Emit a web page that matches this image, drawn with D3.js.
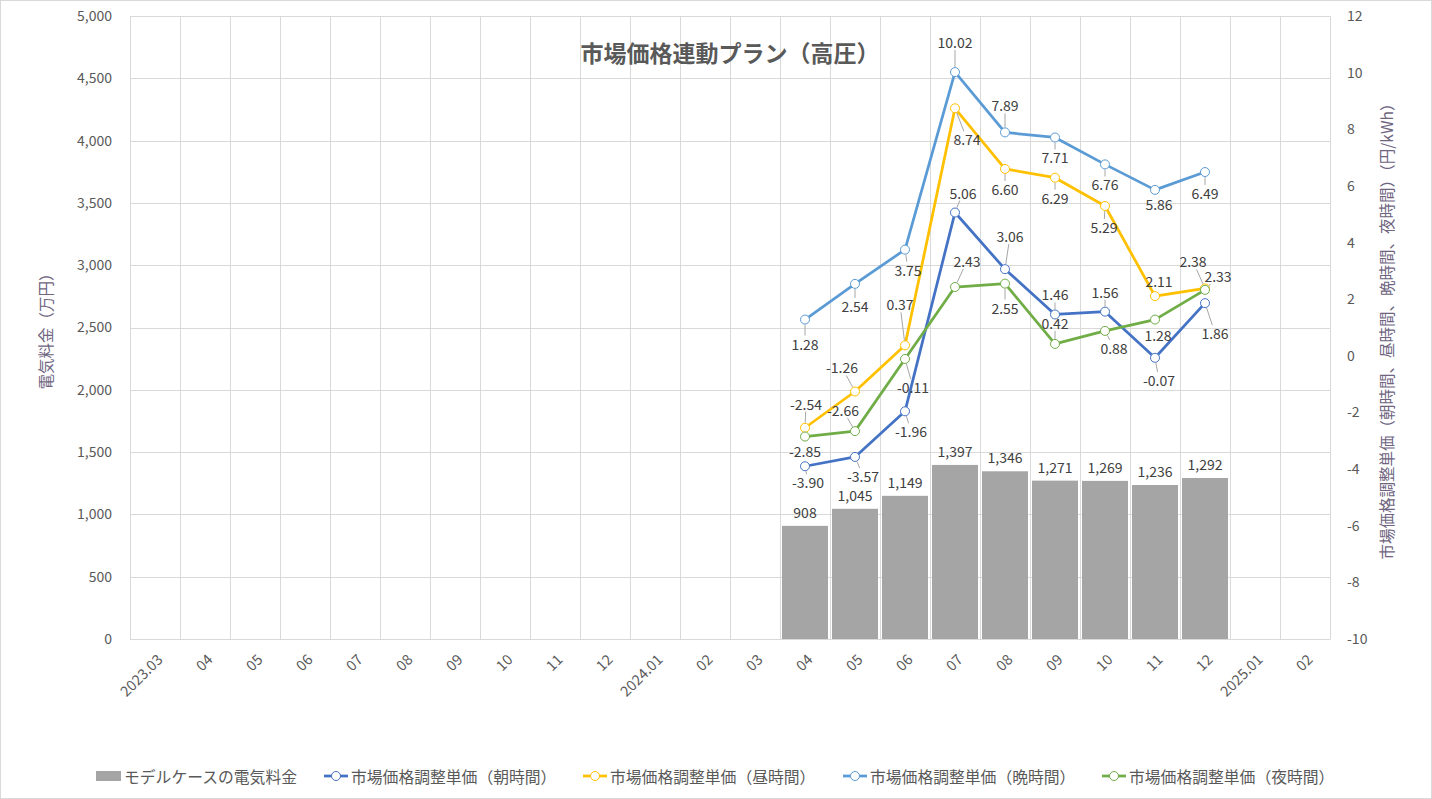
<!DOCTYPE html>
<html>
<head>
<meta charset="utf-8">
<script src="https://cdn.jsdelivr.net/npm/d3@7"></script>
<style>
  html, body { margin: 0; padding: 0; background: #fff; }
  svg { display: block; font-family: "Noto Sans CJK JP", "Noto Sans", sans-serif; }
</style>
</head>
<body>
<svg id="chart" width="1432" height="799"></svg>
<script>
// ---------------- data ----------------
const categories = ['2023.03','2023.04','2023.05','2023.06','2023.07','2023.08','2023.09','2023.10','2023.11','2023.12',
  '2024.01','2024.02','2024.03','2024.04','2024.05','2024.06','2024.07','2024.08','2024.09','2024.10','2024.11','2024.12',
  '2025.01','2025.02'];
const tickLabels = ['2023.03','04','05','06','07','08','09','10','11','12',
  '2024.01','02','03','04','05','06','07','08','09','10','11','12','2025.01','02'];
const dataMonths = ['2024.04','2024.05','2024.06','2024.07','2024.08','2024.09','2024.10','2024.11','2024.12'];

const billValues = [908, 1045, 1149, 1397, 1346, 1271, 1269, 1236, 1292];       // 万円
const morningValues = [-3.90, -3.57, -1.96, 5.06, 3.06, 1.46, 1.56, -0.07, 1.86]; // 朝時間
const dayValues     = [-2.54, -1.26, 0.37, 8.74, 6.60, 6.29, 5.29, 2.11, 2.38];   // 昼時間
const eveningValues = [1.28, 2.54, 3.75, 10.02, 7.89, 7.71, 6.76, 5.86, 6.49];    // 晩時間
const nightValues   = [-2.85, -2.66, -0.11, 2.43, 2.55, 0.42, 0.88, 1.28, 2.33];  // 夜時間

const leftTicks = [0, 500, 1000, 1500, 2000, 2500, 3000, 3500, 4000, 4500, 5000];
const rightTicks = [-10, -8, -6, -4, -2, 0, 2, 4, 6, 8, 10, 12];

const titleText = '市場価格連動プラン（高圧）';
const leftAxisTitle = '電気料金（万円）';
const rightAxisTitle = '市場価格調整単価（朝時間、昼時間、晩時間、夜時間）（円/kWh）';
const barName = 'モデルケースの電気料金';
const seriesNames = ['市場価格調整単価（朝時間）','市場価格調整単価（昼時間）','市場価格調整単価（晩時間）','市場価格調整単価（夜時間）'];

// ---------------- layout / style ----------------
const W = 1432, H = 799;
const plot = { left: 130, right: 1330, top: 16, bottom: 639 };
const colors = ['#4472C4', '#FFC000', '#5B9BD5', '#70AD47'];
const barColor = '#A5A5A5';
const gridColor = '#D9D9D9';
const textColor = '#595959';
const labelColor = '#404040';

// label offsets (label centre relative to its point), per series
const labelOffsets = [
  [[3,16],[8,19],[6,20],[8,-20],[5,-33],[0,-20],[0,-20],[4,22],[10,30]],
  [[1,-24],[-13,-24],[-5,-41],[12,31],[0,20],[0,20],[-1,21],[4,-15],[-12,-27]],
  [[0,24],[0,22],[3,20],[0,-30],[0,-27],[0,20],[0,20],[4,14],[0,21]],
  [[0,14],[-12,-21],[8,28],[12,-26],[0,24],[0,-21],[9,17],[3,15],[13,-14]]
];
const legendX = [96, 324, 583, 843, 1102];

const svg = d3.select('#chart');
svg.append('rect').attr('x', 0.5).attr('y', 0.5).attr('width', W - 1).attr('height', H - 1)
  .attr('fill', '#fff').attr('stroke', gridColor);

const x = d3.scaleBand().domain(categories).range([plot.left, plot.right]).paddingInner(0).paddingOuter(0);
const yL = d3.scaleLinear().domain([0, 5000]).range([plot.bottom, plot.top]);
const yR = d3.scaleLinear().domain([-10, 12]).range([plot.bottom, plot.top]);

// gridlines
const g = svg.append('g');
g.selectAll('line.h').data(leftTicks).join('line')
  .attr('x1', plot.left).attr('x2', plot.right)
  .attr('y1', d => Math.round(yL(d)) + 0.5).attr('y2', d => Math.round(yL(d)) + 0.5)
  .attr('stroke', gridColor).attr('stroke-width', 1);
const bounds = categories.map(c => x(c)).concat([plot.right]);
g.selectAll('line.v').data(bounds).join('line')
  .attr('x1', d => Math.round(d) + 0.5).attr('x2', d => Math.round(d) + 0.5)
  .attr('y1', plot.top).attr('y2', plot.bottom)
  .attr('stroke', gridColor).attr('stroke-width', 1);

// left axis
const leftAxis = d3.axisLeft(yL).tickValues(leftTicks).tickSize(0).tickPadding(18)
  .tickFormat(d3.format(','));
const la = svg.append('g').attr('transform', `translate(${plot.left},0)`).call(leftAxis);
la.select('.domain').remove();
la.selectAll('text').attr('fill', textColor).style('font-size', '14px').attr('font-family', '"Noto Sans CJK JP", sans-serif');

// right axis
const rightAxis = d3.axisRight(yR).tickValues(rightTicks).tickSize(0).tickPadding(17);
const ra = svg.append('g').attr('transform', `translate(${plot.right},0)`).call(rightAxis);
ra.select('.domain').remove();
ra.selectAll('text').attr('fill', textColor).style('font-size', '14px').attr('font-family', '"Noto Sans CJK JP", sans-serif')
  .text(d => d < 0 ? '-' + Math.abs(d) : d);

// bottom axis
const bottomAxis = d3.axisBottom(x).tickSize(0).tickFormat((d, i) => tickLabels[i]);
const ba = svg.append('g').attr('transform', `translate(0,${plot.bottom})`).call(bottomAxis);
ba.select('.domain').attr('stroke', gridColor);
ba.selectAll('text')
  .attr('fill', textColor).style('font-size', '14.5px').attr('font-family', '"Noto Sans CJK JP", sans-serif')
  .attr('text-anchor', 'end')
  .attr('dy', '0.35em').attr('y', 0)
  .attr('transform', 'translate(5,18) rotate(-45)');

// bars
const barW = x.bandwidth() * 0.92;
svg.append('g').selectAll('rect').data(billValues).join('rect')
  .attr('x', (d, i) => x(dataMonths[i]) + (x.bandwidth() - barW) / 2)
  .attr('width', barW)
  .attr('y', d => yL(d))
  .attr('height', d => plot.bottom - yL(d))
  .attr('fill', barColor);

// bar labels
svg.append('g').selectAll('text').data(billValues).join('text')
  .attr('x', (d, i) => x(dataMonths[i]) + x.bandwidth() / 2)
  .attr('y', d => yL(d) - 14)
  .attr('text-anchor', 'middle').attr('dominant-baseline', 'central')
  .attr('fill', labelColor).style('font-size', '14px')
  .text(d => d3.format(',')(d));

// lines
const allSeries = [morningValues, dayValues, eveningValues, nightValues];
const line = d3.line().x((d, i) => x(dataMonths[i]) + x.bandwidth() / 2).y(d => yR(d));
allSeries.forEach((vals, si) => {
  const gs = svg.append('g');
  gs.append('path').datum(vals).attr('d', line)
    .attr('fill', 'none').attr('stroke', colors[si]).attr('stroke-width', 2.75)
    .attr('stroke-linejoin', 'round');
  gs.selectAll('circle').data(vals).join('circle')
    .attr('cx', (d, i) => x(dataMonths[i]) + x.bandwidth() / 2)
    .attr('cy', d => yR(d))
    .attr('r', 4.5)
    .attr('fill', '#fff').attr('stroke', colors[si]).attr('stroke-width', 1);
});

// data labels + leader lines
const lblG = svg.append('g');
allSeries.forEach((vals, si) => {
  vals.forEach((v, i) => {
    const px = x(dataMonths[i]) + x.bandwidth() / 2;
    const py = yR(v);
    const [dx, dy] = labelOffsets[si][i];
    const lx = px + dx, ly = py + dy;
    const txt = v.toFixed(2);
    const t = lblG.append('text')
      .attr('x', lx).attr('y', ly)
      .attr('text-anchor', 'middle').attr('dominant-baseline', 'central')
      .attr('fill', labelColor).style('font-size', '14px')
      .text(txt);
    const hw = t.node().getComputedTextLength() / 2 + 1, hh = 8;
    const vx = px - lx, vy = py - ly;
    const tEdge = Math.min(vx !== 0 ? hw / Math.abs(vx) : Infinity, vy !== 0 ? hh / Math.abs(vy) : Infinity);
    const ex = lx + vx * tEdge, ey = ly + vy * tEdge;
    const dist = Math.hypot(px - ex, py - ey);
    if (dist > 7.5) {
      const ux = (px - ex) / dist, uy = (py - ey) / dist;
      lblG.insert('line', 'text')
        .attr('x1', ex).attr('y1', ey)
        .attr('x2', px - ux * 5).attr('y2', py - uy * 5)
        .attr('stroke', '#A6A6A6').attr('stroke-width', 1);
    }
  });
});

// title
svg.append('text').attr('x', 730).attr('y', 52)
  .attr('text-anchor', 'middle').attr('dominant-baseline', 'central')
  .attr('fill', textColor).style('font-size', '23px').style('font-weight', 'bold')
  .text(titleText);

// axis titles
svg.append('text').attr('transform', `translate(45,${(plot.top + plot.bottom) / 2}) rotate(-90)`)
  .attr('text-anchor', 'middle').attr('dominant-baseline', 'central')
  .attr('fill', '#6E6480').style('font-size', '15.5px')
  .text(leftAxisTitle);
svg.append('text').attr('transform', `translate(1386,${(plot.top + plot.bottom) / 2}) rotate(-90)`)
  .attr('text-anchor', 'middle').attr('dominant-baseline', 'central')
  .attr('fill', '#6E6480').style('font-size', '15.5px')
  .text(rightAxisTitle);

// legend
const ly0 = 776;
const lg = svg.append('g');
lg.append('rect').attr('x', legendX[0]).attr('y', ly0 - 5).attr('width', 25).attr('height', 10).attr('fill', barColor);
lg.append('text').attr('x', legendX[0] + 28).attr('y', ly0).attr('dominant-baseline', 'central')
  .attr('fill', textColor).style('font-size', '15.8px').text(barName);
seriesNames.forEach((name, si) => {
  const lx = legendX[si + 1];
  lg.append('line').attr('x1', lx).attr('x2', lx + 24).attr('y1', ly0).attr('y2', ly0)
    .attr('stroke', colors[si]).attr('stroke-width', 2.75);
  lg.append('circle').attr('cx', lx + 12).attr('cy', ly0).attr('r', 4.5)
    .attr('fill', '#fff').attr('stroke', colors[si]).attr('stroke-width', 1);
  lg.append('text').attr('x', lx + 27).attr('y', ly0).attr('dominant-baseline', 'central')
    .attr('fill', textColor).style('font-size', '15.8px').text(name);
});
</script>
</body>
</html>
